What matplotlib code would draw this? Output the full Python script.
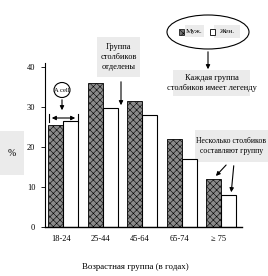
import matplotlib
matplotlib.use("Agg")
import matplotlib.pyplot as plt
from matplotlib.patches import Ellipse, FancyArrowPatch, Rectangle
import numpy as np

groups = ["18-24", "25-44", "45-64", "65-74", "\u2265 75"]
men = [25.5, 36, 31.5, 22, 12]
women = [26.5, 29.8, 28, 17, 8]
yticks = [0, 10, 20, 30, 40]

W, H = 268, 276
SERIF = ["Liberation Serif", "DejaVu Serif"]
BOX = "#ebebeb"

plt.rcParams["font.family"] = SERIF
plt.rcParams["hatch.linewidth"] = 0.4

fig = plt.figure(figsize=(W / 100, H / 100), dpi=100)
fig.patch.set_facecolor("white")


def px(x, y):
    return x / W, 1 - y / H


def box_text(x0, y0, x1, y1, text, size=6.0):
    fig.add_artist(Rectangle(px(x0, y1), (x1 - x0) / W, (y1 - y0) / H,
                             transform=fig.transFigure, facecolor=BOX,
                             edgecolor="none", zorder=-1))
    cx, cy = px((x0 + x1) / 2, (y0 + y1) / 2)
    fig.text(cx, cy, text, ha="center", va="center", fontsize=size,
             linespacing=1.4)


def arrow(x0, y0, x1, y1, style="-|>", ms=6):
    fig.add_artist(FancyArrowPatch(px(x0, y0), px(x1, y1),
                                   transform=fig.transFigure,
                                   arrowstyle=style, mutation_scale=ms,
                                   color="black", linewidth=0.8, zorder=3))


# y label
box_text(0, 131, 24, 175, "%", size=7)

ax = fig.add_axes([45 / W, 0.1775, 197 / W, 0.594], zorder=5)
ax.patch.set_alpha(0)
x = np.arange(len(groups))
bw = 0.38
ax.bar(x - bw / 2, men, bw, facecolor="#8a8a8a", edgecolor="black",
       hatch="xxxxx", linewidth=0.6)
ax.bar(x + bw / 2, women, bw, facecolor="white", edgecolor="black",
       linewidth=0.8)
ax.set_xlim(-0.46, 4.53)
ax.set_ylim(0, 41)
ax.set_yticks(yticks)
ax.set_yticklabels([str(v) for v in yticks])
ax.set_xticks(x - 0.06)
ax.set_xticklabels(groups, fontsize=6)
ax.tick_params(axis="x", length=0, pad=6)
ax.tick_params(axis="y", length=3, width=0.6, labelsize=6, pad=4)
for s in ["top", "right"]:
    ax.spines[s].set_visible(False)
ax.spines["left"].set_linewidth(0.8)
ax.spines["bottom"].set_linewidth(1.0)

# x label
cx, cy = px(135, 267)
fig.text(cx, cy, "Возрастная группа (в годах)", ha="center", va="center",
         fontsize=6.4)

# "A cell" annotation
fig.add_artist(Ellipse(px(62, 90), 16 / W, 15 / H, transform=fig.transFigure,
                       facecolor="white", edgecolor="black", linewidth=0.8,
                       zorder=3))
cx, cy = px(62, 90)
fig.text(cx, cy, "A cell", ha="center", va="center", fontsize=4.8, zorder=4)
arrow(62, 97, 62, 113)
arrow(49, 118, 78, 118, style="<|-|>", ms=6)
fig.add_artist(plt.Line2D([49 / W, 49 / W], [1 - 114 / H, 1 - 122 / H],
                          color="black", linewidth=0.8, zorder=3))
fig.add_artist(plt.Line2D([78 / W, 78 / W], [1 - 114 / H, 1 - 122 / H],
                          color="black", linewidth=0.8, zorder=3))

# group separation box
box_text(97, 37, 140, 77, "Группа\nстолбиков\nотделены")
arrow(121, 79, 121, 108)

# legend ellipse
fig.add_artist(Ellipse(px(208, 32), 82 / W, 34 / H, transform=fig.transFigure,
                       facecolor="white", edgecolor="black", linewidth=0.8,
                       zorder=-2))
box_text(185, 25, 204, 37, "Муж.", size=5.2)
box_text(214, 25, 240, 38, "Жен.", size=5.2)
fig.add_artist(Rectangle(px(179, 35), 5 / W, 6 / H, transform=fig.transFigure,
                         facecolor="#777777", edgecolor="black", linewidth=0.5,
                         hatch="xxxx"))
fig.add_artist(Rectangle(px(210, 35), 5 / W, 6 / H, transform=fig.transFigure,
                         facecolor="white", edgecolor="black", linewidth=0.6))
arrow(208, 49, 208, 72)
box_text(173, 70, 250, 96, "Каждая группа\nстолбиков имеет легенду")

# several bars form a group
box_text(195, 130, 268, 162, "Несколько столбиков\nсоставляют группу", size=5.6)
arrow(228, 163, 214, 178)
arrow(234, 163, 231, 195)

fig.savefig("out.png", dpi=100)
